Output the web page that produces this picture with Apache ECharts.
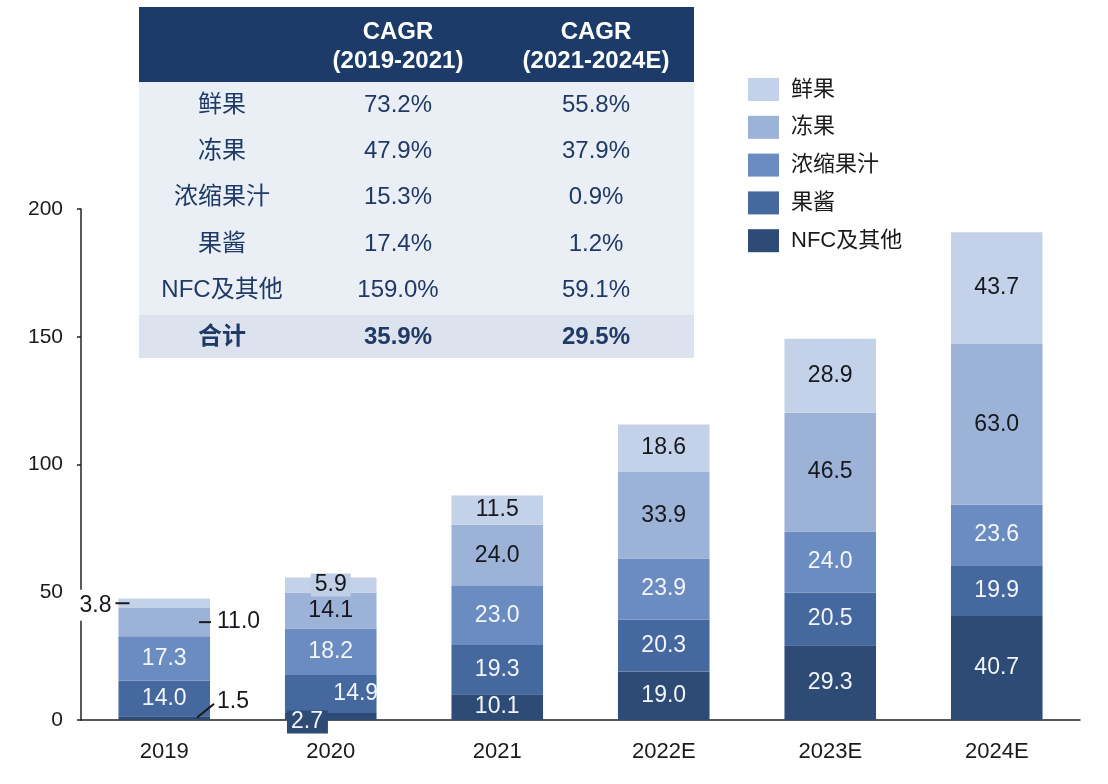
<!DOCTYPE html>
<html>
<head>
<meta charset="utf-8">
<script src="https://cdn.jsdelivr.net/npm/echarts@6/dist/echarts.min.js"></script>
<style>
html,body{margin:0;padding:0;background:#fff;}
#main{width:1108px;height:784px;}
</style>
</head>
<body>
<div id="main"></div>
<script>
// ---- data ----
const categories = ['2019', '2020', '2021', '2022E', '2023E', '2024E'];
const seriesNames = ['NFC及其他', '果酱', '浓缩果汁', '冻果', '鲜果'];
const nfc = [1.5, 2.7, 10.1, 19.0, 29.3, 40.7];
const jam = [14.0, 14.9, 19.3, 20.3, 20.5, 19.9];
const concentrate = [17.3, 18.2, 23.0, 23.9, 24.0, 23.6];
const frozen = [11.0, 14.1, 24.0, 33.9, 46.5, 63.0];
const fresh = [3.8, 5.9, 11.5, 18.6, 28.9, 43.7];
const totals = [47.6, 55.8, 87.9, 115.7, 149.2, 190.9];
const yMin = 0, yMax = 200, yStep = 50;

const tableHeader1 = ['CAGR', 'CAGR'];
const tableHeader2 = ['(2019-2021)', '(2021-2024E)'];
const tableRows = ['鲜果', '冻果', '浓缩果汁', '果酱', 'NFC及其他'];
const cagr1921 = ['73.2%', '47.9%', '15.3%', '17.4%', '159.0%'];
const cagr2124 = ['55.8%', '37.9%', '0.9%', '1.2%', '59.1%'];
const totalRow = ['合计', '35.9%', '29.5%'];
const legendOrder = ['鲜果', '冻果', '浓缩果汁', '果酱', 'NFC及其他'];

// ---- styles ----
const FONT = "'Liberation Sans', Arial, 'Noto Sans CJK SC', sans-serif";
const colors = {
  'NFC及其他': '#2E4B76',
  '果酱': '#45689F',
  '浓缩果汁': '#6B8CC1',
  '冻果': '#9CB2D7',
  '鲜果': '#C4D2E9'
};
const labelColors = {
  'NFC及其他': '#F2F5FA',
  '果酱': '#F2F5FA',
  '浓缩果汁': '#F2F5FA',
  '冻果': '#15181F',
  '鲜果': '#15181F'
};
const BAR_FRAC = 0.55;
const LBL = 23;

const values = { 'NFC及其他': nfc, '果酱': jam, '浓缩果汁': concentrate, '冻果': frozen, '鲜果': fresh };

// special label placements (styles only)
const specialLabels = {
  'NFC及其他': {
    0: { position: 'right', distance: 7, offset: [0, -16], color: '#15181F' },
    1: { position: [2, 9], align: 'left', verticalAlign: 'middle', backgroundColor: '#2E4B76', padding: [0, 5, 0, 4] }
  },
  '果酱': { 1: { offset: [25, 0] } },
  '冻果': { 0: { position: 'right', distance: 7 } },
  '鲜果': {
    0: { position: 'left', distance: 5, offset: [0, 2], backgroundColor: '#ffffff', padding: [4, 2, 4, 6] },
    1: { backgroundColor: '#C0CFE6', padding: [0, 4, 0, 4] }
  }
};

const barSeries = seriesNames.map(name => ({
  name: name,
  type: 'bar',
  stack: 'total',
  barWidth: (BAR_FRAC * 100) + '%',
  itemStyle: { color: colors[name] },
  label: {
    show: true,
    position: 'inside',
    fontFamily: FONT,
    fontSize: LBL,
    color: labelColors[name],
    formatter: p => Number(p.value).toFixed(1)
  },
  data: values[name].map((v, i) => {
    const s = specialLabels[name] && specialLabels[name][i];
    return s ? { value: v, label: s } : v;
  })
}));

const option = {
  animation: false,
  backgroundColor: '#ffffff',
  grid: { left: 81, right: 28, top: 209, bottom: 64 },
  legend: {
    data: legendOrder,
    orient: 'vertical',
    left: 748,
    top: 78,
    padding: 0,
    itemWidth: 31,
    itemHeight: 23,
    itemGap: 14.8,
    icon: 'rect',
    textStyle: { fontSize: 22, color: '#1a1a1a', fontFamily: FONT, padding: [0, 0, 0, 7] }
  },
  xAxis: {
    type: 'category',
    data: categories,
    axisLine: { lineStyle: { color: '#222', width: 1.5 } },
    axisTick: { show: false },
    axisLabel: { fontSize: 22, color: '#1a1a1a', fontFamily: FONT, margin: 21 }
  },
  yAxis: {
    type: 'value',
    min: yMin,
    max: yMax,
    interval: yStep,
    axisLine: { show: true, lineStyle: { color: '#222', width: 1.5 } },
    axisTick: { show: true, length: 4, lineStyle: { color: '#222', width: 1.5 } },
    splitLine: { show: false },
    axisLabel: { fontSize: 21, color: '#1a1a1a', fontFamily: FONT, margin: 18 }
  },
  series: barSeries.concat([{
    name: 'total',
    type: 'scatter',
    symbolSize: 1,
    itemStyle: { opacity: 0 },
    label: {
      show: true,
      position: 'top',
      distance: 5,
      fontFamily: FONT,
      fontSize: LBL,
      color: '#1a1a1a',
      formatter: p => Number(p.value).toFixed(1)
    },
    data: totals
  }])
};

const chart = echarts.init(document.getElementById('main'), null, { renderer: 'canvas' });
chart.setOption(option);

// ---- leader lines via axis scales ----
const px = (i, v) => chart.convertToPixel({ xAxisIndex: 0, yAxisIndex: 0 }, [i, v]);
const band = px(1, 0)[0] - px(0, 0)[0];
const half = band * BAR_FRAC / 2;
const c0 = px(0, 0)[0];
const left0 = c0 - half, right0 = c0 + half;
const freshMid = nfc[0] + jam[0] + concentrate[0] + frozen[0] + fresh[0] / 2;
const frozenMid = nfc[0] + jam[0] + concentrate[0] + frozen[0] / 2;
const yFresh = px(0, freshMid)[1];
const yFrozen = px(0, frozenMid)[1];
const lineStyle = { stroke: '#1a1a1a', lineWidth: 2 };
const graphics = [
  { type: 'line', z: 100, shape: { x1: left0 - 3, y1: yFresh, x2: left0 + 11, y2: yFresh }, style: lineStyle },
  { type: 'line', z: 100, shape: { x1: right0 - 11, y1: yFrozen, x2: right0 + 1, y2: yFrozen }, style: lineStyle },
  { type: 'line', z: 100, shape: { x1: right0 - 13, y1: px(0, 1.0)[1], x2: right0 + 4, y2: px(0, 6.3)[1] }, style: lineStyle }
];

// ---- CAGR table (layout) ----
const T = { x: 139, w: 555, headTop: 7, headBot: 82, bodyBot: 315, totalBot: 358 };
const colX = [222, 398, 596];
const rowY0 = 105, rowStep = 46.4;
const navy = '#1C3B68';
const txtNavy = '#1F3A66';
graphics.push(
  { type: 'rect', z: 1, shape: { x: T.x, y: T.headTop, width: T.w, height: T.headBot - T.headTop }, style: { fill: navy } },
  { type: 'rect', z: 1, shape: { x: T.x, y: T.headBot, width: T.w, height: T.bodyBot - T.headBot }, style: { fill: '#EAEFF6' } },
  { type: 'rect', z: 1, shape: { x: T.x, y: T.bodyBot, width: T.w, height: T.totalBot - T.bodyBot }, style: { fill: '#DCE3EE' } }
);
const txt = (s, x, y, opts) => Object.assign({
  type: 'text', z: 2,
  style: Object.assign({ text: s, x: x, y: y, align: 'center', verticalAlign: 'middle', fontFamily: FONT, fontSize: 24, fill: txtNavy }, opts || {})
});
for (let c = 0; c < 2; c++) {
  graphics.push(txt(tableHeader1[c], colX[c + 1], 32, { fill: '#ffffff', fontWeight: 'bold', fontSize: 24 }));
  graphics.push(txt(tableHeader2[c], colX[c + 1], 61, { fill: '#ffffff', fontWeight: 'bold', fontSize: 24 }));
}
tableRows.forEach((r, i) => {
  const y = rowY0 + i * rowStep;
  graphics.push(txt(r, colX[0], y));
  graphics.push(txt(cagr1921[i], colX[1], y));
  graphics.push(txt(cagr2124[i], colX[2], y));
});
const yTot = rowY0 + tableRows.length * rowStep;
totalRow.forEach((s, c) => {
  graphics.push(txt(s, colX[c], yTot, { fontWeight: 'bold' }));
});

chart.setOption({ graphic: graphics });
</script>
</body>
</html>
